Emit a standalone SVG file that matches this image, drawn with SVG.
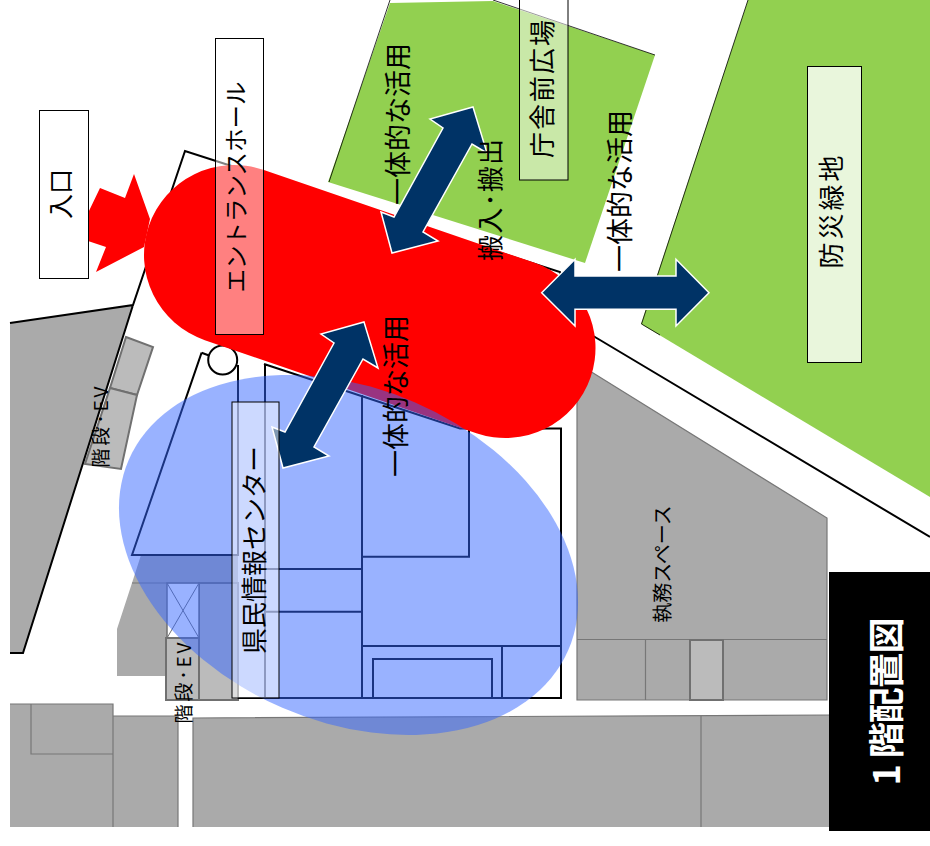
<svg xmlns="http://www.w3.org/2000/svg" width="930" height="846" viewBox="0 0 930 846">
<style>
text{font-family:"Noto Sans CJK JP","Noto Sans",sans-serif;fill:#000;text-anchor:middle;dominant-baseline:central}
.g{fill:#aaa;stroke:#777;stroke-width:1.2}
.l{fill:#bbb;stroke:#707070;stroke-width:2}
.ln{fill:none;stroke:#777;stroke-width:1.2}
.b{fill:none;stroke:#000;stroke-width:2}
.t{fill:none;stroke:#000;stroke-width:.8}
.lab{stroke:#000;stroke-width:1}
.ar{fill:#036;stroke:#fff;stroke-width:1.5}
</style>
<defs>
<polygon id="da" points="473,107 487,153 472,144 423,232 438,241 392,253 381,212 394,217 443,128 430,119"/>
</defs>
<rect width="930" height="846" fill="#fff"/>
<g id="green">
<polygon points="748,0 930,0 930,497 641,324" fill="#92d050"/>
<path class="t" d="M748,0L641.500,324L660,335"/>
<polygon points="390,3 493,1 655,55 585,263 328,182" fill="#92d050"/>
<path class="t" d="M390,0L329,182M493,0L655,55"/>
</g>
<g id="gray-areas">
<polygon class="g" points="10,704 113,704 113,716 178,716 178,827 10,827" style="stroke:none"/>
<path class="ln" d="M10,704H113V827M31,704V754H113M113,716H178V827"/>
<polygon class="g" points="193,718 830,715 830,827 193,827" style="stroke:none"/>
<path class="ln" d="M193,827V718L830,715M701,716V827"/>
<polygon class="g" points="577,363 827,518 827,700 577,700"/>
<path class="ln" d="M577,639.500H827M645.500,639.500V700"/>
<rect class="l" x="690" y="640" width="33" height="60"/>
<polygon class="g" points="141,555 238,555 238,676 166,676 117,676 117,629 132,583" style="stroke:none"/>
<rect class="l" x="199" y="583" width="39" height="117"/>
<rect x="167" y="583" width="32" height="55" fill="#fff" stroke="#707070" stroke-width="1.500"/>
<path d="M167,583L199,638M199,583L167,638" stroke="#707070" stroke-width="1" fill="none"/>
<rect class="l" x="166" y="638" width="33" height="62"/>
<path class="ln" d="M132,583H238"/>
<polygon class="l" points="126,337 153,347 137,395 110,388"/>
<polygon class="l" points="110,388 137,395 121,469 85,464"/>
<polygon points="10,323 133,305 23,653 10,653" fill="#aaa"/>
<path class="b" d="M10,323L133,305L185,151L560,272L578,327L600,340L930,537M133,305L23,653H10"/>
</g>
<g id="building">
<path class="b" d="M201.600,352.700L132,555H238V365M201.600,352.700L209,355.500"/>
<circle cx="222.700" cy="360" r="14.500" fill="#fff" stroke="#000" stroke-width="2"/>
<path class="b" d="M264,364L460,428.500H561V698H238M265,364V698M362,395V698M469,428.500V556.700H362M265,569H362M265,611.700H362M362,646H561M502,646V698M373,698V659H492V698"/>
</g>
<g id="zones">
<path id="hall-star" d="M75,225L88,213L100,188L125,198L134,174L150,219L144,247L96,272L106,247L88,241Z" fill="#f00"/>
<line id="hall-zone" x1="234" y1="255" x2="505.500" y2="348" stroke="#f00" stroke-width="180" stroke-linecap="round"/>
<ellipse id="center-zone" cx="348.500" cy="555" rx="239.500" ry="166.500" transform="rotate(23.400 348.500 555)" fill="#36f" fill-opacity=".5"/>
</g>
<g id="connectors">
<use href="#da" class="ar"/>
<use href="#da" class="ar" transform="translate(-109 215)"/>
<polygon class="ar" points="541.700,292.700 575,259.300 575,276 676,276 676,259.300 709,292.700 676,326 676,309.300 575,309.300 575,326"/>
</g>
<g id="node-entrance"><rect class="lab" x="39.500" y="110.500" width="49" height="168" fill="#fff" stroke="#555"/><text transform="translate(59 194) rotate(-90)" font-size="25">入口</text></g>
<g id="node-hall"><rect class="lab" x="215.500" y="38.500" width="48" height="296" fill="#fff" fill-opacity=".5"/><text transform="translate(235 187) rotate(-90)" font-size="23.500">エントランスホール</text></g>
<g id="node-plaza"><rect class="lab" x="519.500" y="-3" width="48.500" height="183" fill="#fff" fill-opacity=".5"/><text transform="translate(540 89) rotate(-90)" font-size="26" textLength="138">庁舎前広場</text></g>
<g id="node-green"><rect class="lab" x="807.500" y="66.500" width="54" height="296" fill="#fff" fill-opacity=".8"/><text transform="translate(829 212) rotate(-90)" font-size="26" textLength="113">防災緑地</text></g>
<g id="node-center"><rect class="lab" x="232" y="402" width="47" height="296" fill="#fff" fill-opacity=".5"/><text transform="translate(252 550) rotate(-90)" font-size="26">県民情報センター</text></g>
<g id="labels">
<text transform="translate(396 124) rotate(-90)" font-size="27">一体的な活用</text>
<text transform="translate(618 191) rotate(-90)" font-size="27">一体的な活用</text>
<text transform="translate(394 396) rotate(-90)" font-size="27">一体的な活用</text>
<text transform="translate(488 200) rotate(-90)" font-size="26" textLength="122">搬入･搬出</text>
<text transform="translate(661 564) rotate(-90)" font-size="20">執務スペース</text>
<text transform="translate(99.500 427) rotate(-90)" font-size="19" textLength="81">階段･EV</text>
<text transform="translate(182.500 683) rotate(-90)" font-size="19" textLength="81">階段･EV</text>
</g>
<g id="title"><rect x="829" y="572" width="101" height="259" fill="#000"/><text transform="translate(884 701.500) rotate(-90)" font-size="36" font-weight="700" textLength="168" style="fill:#fff">1 階配置図</text></g>
</svg>
